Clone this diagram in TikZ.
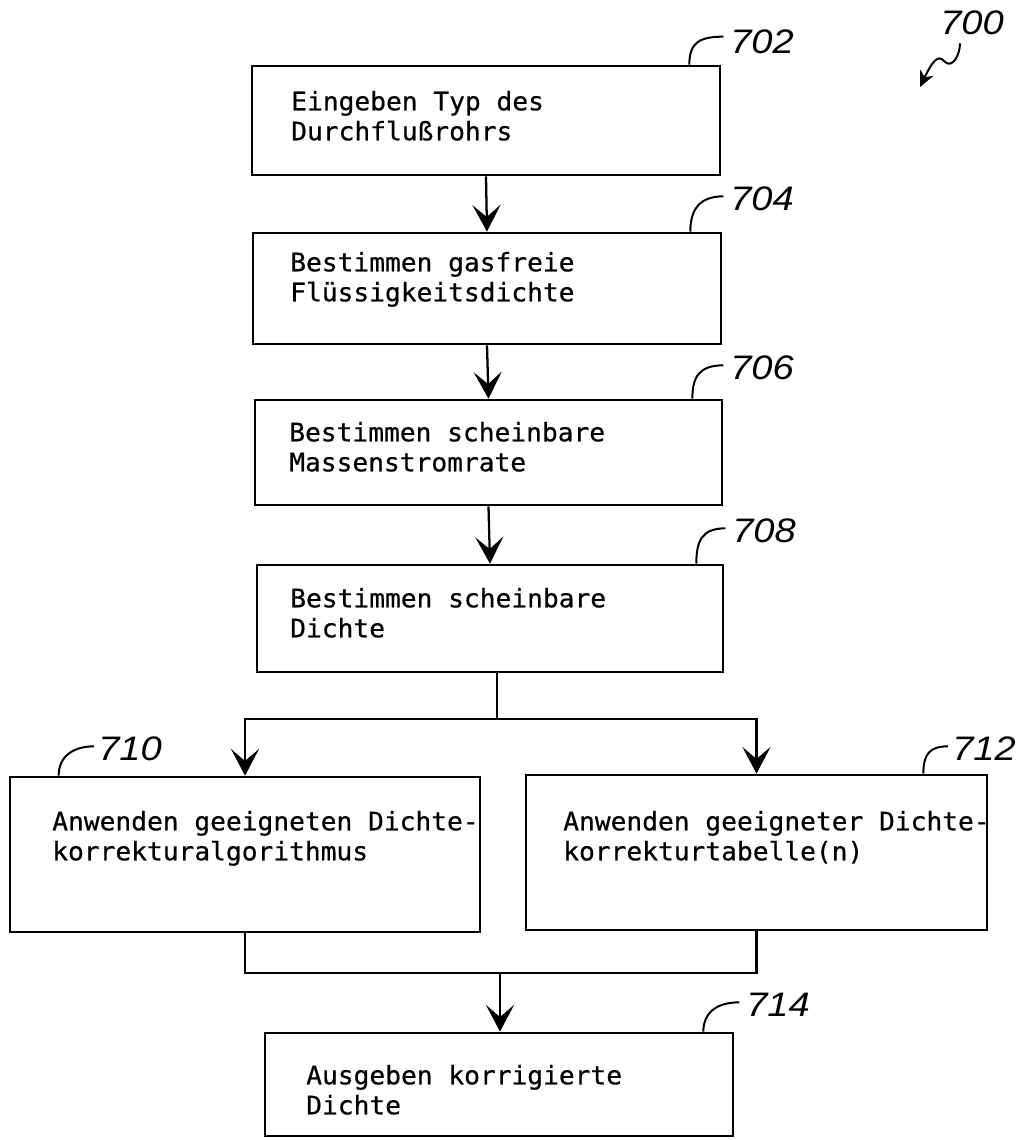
\documentclass[tikz,border=0pt]{standalone}
\usepackage{fontspec}
\setmainfont{DejaVu Sans Mono}[FakeStretch=1.03,FakeBold=0.6]
\newfontfamily\labfont{Liberation Sans}[FakeStretch=1.12]
\usetikzlibrary{arrows.meta,fit,calc}
\tikzset{
  box/.style={draw, line width=2pt, inner sep=0pt},
  txt/.style={anchor=north west, inner sep=0pt, align=left, font=\fontsize{19.1pt}{22.5pt}\selectfont},
  lab/.style={anchor=west, inner sep=0pt, font=\labfont\itshape\fontsize{25.5pt}{30pt}\selectfont},
  arr/.style={line width=1.7pt, -{Stealth[length=20pt,width=21pt,inset=9pt]}},
  con/.style={line width=1.7pt},
  hook/.style={line width=1.5pt},
}
\begin{document}
\begin{tikzpicture}[x=0.75pt,y=-0.75pt]
\useasboundingbox (0,0) rectangle (1020,1140);
% boxes
\node[box, fit={(252,66) (720,175)}] (b702) {};
\node[box, fit={(253,233) (721,344)}] (b704) {};
\node[box, fit={(255,400) (722,505)}] (b706) {};
\node[box, fit={(257,565) (723,672)}] (b708) {};
\node[box, fit={(10,777) (480,932)}] (b710) {};
\node[box, fit={(526,775) (987,930)}] (b712) {};
\node[box, fit={(265,1033) (733,1136)}] (b714) {};
% texts
\node[txt] (t702) at (291,88.7) {\rule{0pt}{16pt}Eingeben Typ des\\Durchflußrohrs};
\node[txt] (t704) at (290,249.7) {\rule{0pt}{16pt}Bestimmen gasfreie\\Flüssigkeitsdichte};
\node[txt] (t706) at (289,419.7) {\rule{0pt}{16pt}Bestimmen scheinbare\\Massenstromrate};
\node[txt] (t708) at (290,585.7) {\rule{0pt}{16pt}Bestimmen scheinbare\\Dichte};
\node[txt] (t710) at (52,808.7) {\rule{0pt}{16pt}Anwenden geeigneten Dichte-\\korrekturalgorithmus};
\node[txt] (t712) at (563,808.7) {\rule{0pt}{16pt}Anwenden geeigneter Dichte-\\korrekturtabelle(n)};
\node[txt] (t714) at (306,1062.7) {\rule{0pt}{16pt}Ausgeben korrigierte\\Dichte};
% labels
\node[lab] (l700) at (940,23) {700};
\node[lab] (l702) at (730,42) {702};
\node[lab] (l704) at (730,199) {704};
\node[lab] (l706) at (730,368) {706};
\node[lab] (l708) at (732,531) {708};
\node[lab] (l710) at (98,749) {710};
\node[lab] (l712) at (952,749) {712};
\node[lab] (l714) at (746,1005) {714};
% hooks
\draw[hook] ([xshift=-5pt,yshift=4pt]l702.west) .. controls +(-24,0) and +(0,-22) .. ($(b702.north east)+(-32,0)$);
\draw[hook] ([xshift=-5pt,yshift=2pt]l704.west) .. controls +(-24,0) and +(0,-22) .. ($(b704.north east)+(-32,0)$);
\draw[hook] ([xshift=-5pt,yshift=2pt]l706.west) .. controls +(-24,0) and +(0,-22) .. ($(b706.north east)+(-31,0)$);
\draw[hook] ([xshift=-5pt,yshift=2pt]l708.west) .. controls +(-24,0) and +(0,-22) .. ($(b708.north east)+(-28,0)$);
\draw[hook] ([xshift=-5pt,yshift=2pt]l714.west) .. controls +(-24,0) and +(0,-18) .. ($(b714.north east)+(-31,0)$);
\draw[hook] ($(b710.north west)+(50,0)$) .. controls +(0,-20) and +(-20,0) .. ([xshift=-3pt,yshift=2pt]l710.west);
\draw[hook] ($(b712.north east)+(-65,0)$) .. controls +(0,-20) and +(-18,0) .. ([xshift=-3pt,yshift=2pt]l712.west);
% 700 pointer
\coordinate (p700) at (920,87);
\draw[hook, -{Stealth[length=12pt,width=11pt,inset=4pt]}] ($(l700.south west)+(20,8)$) .. controls (960,55) and (952,70) .. (944,61) .. controls (938,54) and (932,62) .. (p700);
% main flow
\draw[arr] (b702.south) -- (b704.north);
\draw[arr] (b704.south) -- (b706.north);
\draw[arr] (b706.south) -- (b708.north);
\coordinate (sp) at (497,719);
\draw[con] (b708.south -| sp) -- (sp);
\draw[arr] (sp) -| (b710.north);
\draw[arr] (sp) -| (b712.north);
\coordinate (mg) at (500,973);
\draw[con] (b710.south) |- (mg);
\draw[con] (b712.south) |- (mg);
\draw[arr] (mg) -- (b714.north -| mg);
\end{tikzpicture}
\end{document}
